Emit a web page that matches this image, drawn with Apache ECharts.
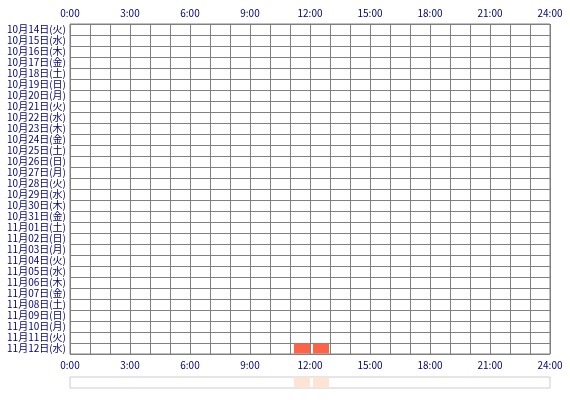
<!DOCTYPE html>
<html><head><meta charset="utf-8">
<script src="https://cdn.jsdelivr.net/npm/echarts@6/dist/echarts.min.js"></script>
<style>html,body{margin:0;padding:0;background:#fff}#c{width:570px;height:400px}</style>
</head><body><div id="c"></div>
<script>
var days = ['10月14日(火)','10月15日(水)','10月16日(木)','10月17日(金)','10月18日(土)','10月19日(日)','10月20日(月)',
 '10月21日(火)','10月22日(水)','10月23日(木)','10月24日(金)','10月25日(土)','10月26日(日)','10月27日(月)',
 '10月28日(火)','10月29日(水)','10月30日(木)','10月31日(金)','11月01日(土)','11月02日(日)','11月03日(月)',
 '11月04日(火)','11月05日(水)','11月06日(木)','11月07日(金)','11月08日(土)','11月09日(日)','11月10日(月)',
 '11月11日(火)','11月12日(水)'];
var hourTicks = [0,3,6,9,12,15,18,21,24];
var activeDay = ['11月12日(水)','11月12日(水)'];
var activeStart = [11.2, 12.15];
var activeEnd = [12.0, 12.95];

var font = '"Noto Sans CJK JP", sans-serif';
var navy = '#000080';
var rows = activeDay.map(function(d,i){ return [days.indexOf(d), activeStart[i], activeEnd[i]]; });
var summary = activeStart.map(function(s,i){ return [0, s, activeEnd[i]]; });

function rectItem(color){
  return function(params, api){
    var yi = api.value(0);
    var p1 = api.coord([api.value(1), yi]);
    var p2 = api.coord([api.value(2), yi]);
    var h = api.size([0,1])[1];
    return {type:'rect', shape:{x:p1[0], y:p1[1]-h/2+0.5, width:p2[0]-p1[0], height:h-1}, style:{fill:color}};
  };
}
function xAx(gi, pos, showLabel){
  return {type:'value', gridIndex:gi, position:pos, min:0, max:24, interval:1,
    axisLine:{show:false}, axisTick:{show:false},
    axisLabel:{show:showLabel, color:navy, fontSize:10, fontFamily:font, margin:6,
      formatter:function(v){ return hourTicks.indexOf(v)>=0 ? v+':00' : ''; }},
    splitLine:{show:gi===0 && pos==='bottom', lineStyle:{color:'#808080', width:1}}};
}
var chart = echarts.init(document.getElementById('c'), null, {renderer:'canvas'});
chart.setOption({
  animation:false,
  grid:[
    {left:70, right:20, top:24, bottom:46, show:true, borderColor:'#808080', borderWidth:1},
    {left:70, right:20, top:377, height:11, show:true, borderColor:'#cccccc', borderWidth:1}
  ],
  xAxis:[xAx(0,'bottom',true), xAx(0,'top',true), xAx(1,'bottom',false)],
  yAxis:[
    {type:'category', gridIndex:0, data:days, inverse:true,
     axisLine:{show:false}, axisTick:{show:false},
     axisLabel:{color:navy, fontSize:10, fontFamily:font, margin:4, interval:0},
     splitLine:{show:true, interval:0, lineStyle:{color:'#808080', width:1}}},
    {type:'category', gridIndex:1, data:['all'], show:false}
  ],
  series:[
    {type:'custom', xAxisIndex:0, yAxisIndex:0, renderItem:rectItem('#ff6347'), data:rows, encode:{x:[1,2], y:0}},
    {type:'custom', xAxisIndex:2, yAxisIndex:1, renderItem:rectItem('#ffe4d4'), data:summary, encode:{x:[1,2], y:0}}
  ]
});
</script></body></html>
